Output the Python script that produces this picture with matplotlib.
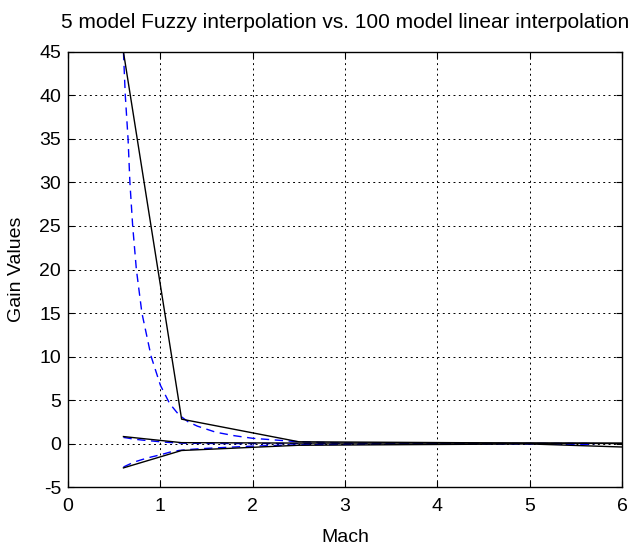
import matplotlib
matplotlib.use("Agg")
import matplotlib.pyplot as plt

plt.rcParams['font.family'] = ['Liberation Sans', 'DejaVu Sans']
plt.rcParams['axes.unicode_minus'] = False

# 5 model fuzzy interpolation (black solid)
mach_fuzzy = [0.6, 1.23, 2.5, 5.0, 6.0]
fuzzy_top = [45.0, 2.8, 0.2, 0.05, 0.0]
fuzzy_mid = [0.8, 0.1, 0.05, 0.05, 0.05]
fuzzy_bot = [-2.8, -0.8, -0.2, -0.05, -0.4]

# 100 model linear interpolation (blue dashed)
mach_lin = [0.6, 0.62, 0.65, 0.67, 0.70, 0.74, 0.80, 0.90, 1.0, 1.1, 1.2, 1.3,
            1.4, 1.6, 1.8, 2.0, 2.5, 3.0, 4.0, 5.0, 5.7]
lin_top = [45.0, 40.0, 35.0, 30.0, 25.0, 20.0, 15.0, 10.0, 6.7, 4.6, 3.3, 2.5,
           2.0, 1.3, 0.9, 0.6, 0.2, 0.05, 0.0, -0.05, -0.1]
lin_mid = [0.7, 0.67, 0.62, 0.58, 0.53, 0.47, 0.4, 0.3, 0.2, 0.12, 0.05, 0.03,
           0.02, 0.01, 0.0, 0.0, 0.0, 0.0, 0.0, 0.0, 0.0]
lin_bot = [-2.7, -2.6, -2.45, -2.35, -2.2, -2.05, -1.85, -1.55, -1.3, -1.0, -0.8, -0.7,
           -0.62, -0.5, -0.4, -0.3, -0.15, -0.1, -0.05, 0.0, 0.0]

fig = plt.figure(figsize=(6.36, 5.5), dpi=100)
ax = fig.add_axes([0.107, 0.1145, 0.871, 0.791])

for y in (lin_top, lin_mid, lin_bot):
    ax.plot(mach_lin, y, color='blue', linestyle=(0, (6, 4)), linewidth=1.0)
for y in (fuzzy_top, fuzzy_mid, fuzzy_bot):
    ax.plot(mach_fuzzy, y, color='black', linestyle='-', linewidth=1.0)

ax.set_xlim(0, 6)
ax.set_ylim(-5, 45)
ax.set_xticks(range(0, 7))
ax.set_yticks(range(-5, 46, 5))
ax.grid(True, color='black', linestyle=(0, (2, 3.5)), linewidth=0.7)
ax.tick_params(direction='in', labelsize=14, length=4, top=True, right=True)
ax.tick_params(axis='x', pad=8)
ax.tick_params(axis='y', pad=5)
for s in ax.spines.values():
    s.set_linewidth(1.0)
ax.set_xlabel('Mach', fontsize=14, labelpad=10)
ax.set_ylabel('Gain Values', fontsize=14, labelpad=10)
ax.set_title('5 model Fuzzy interpolation vs. 100 model linear interpolation', fontsize=15, pad=17)

fig.savefig('out.png', dpi=100)
